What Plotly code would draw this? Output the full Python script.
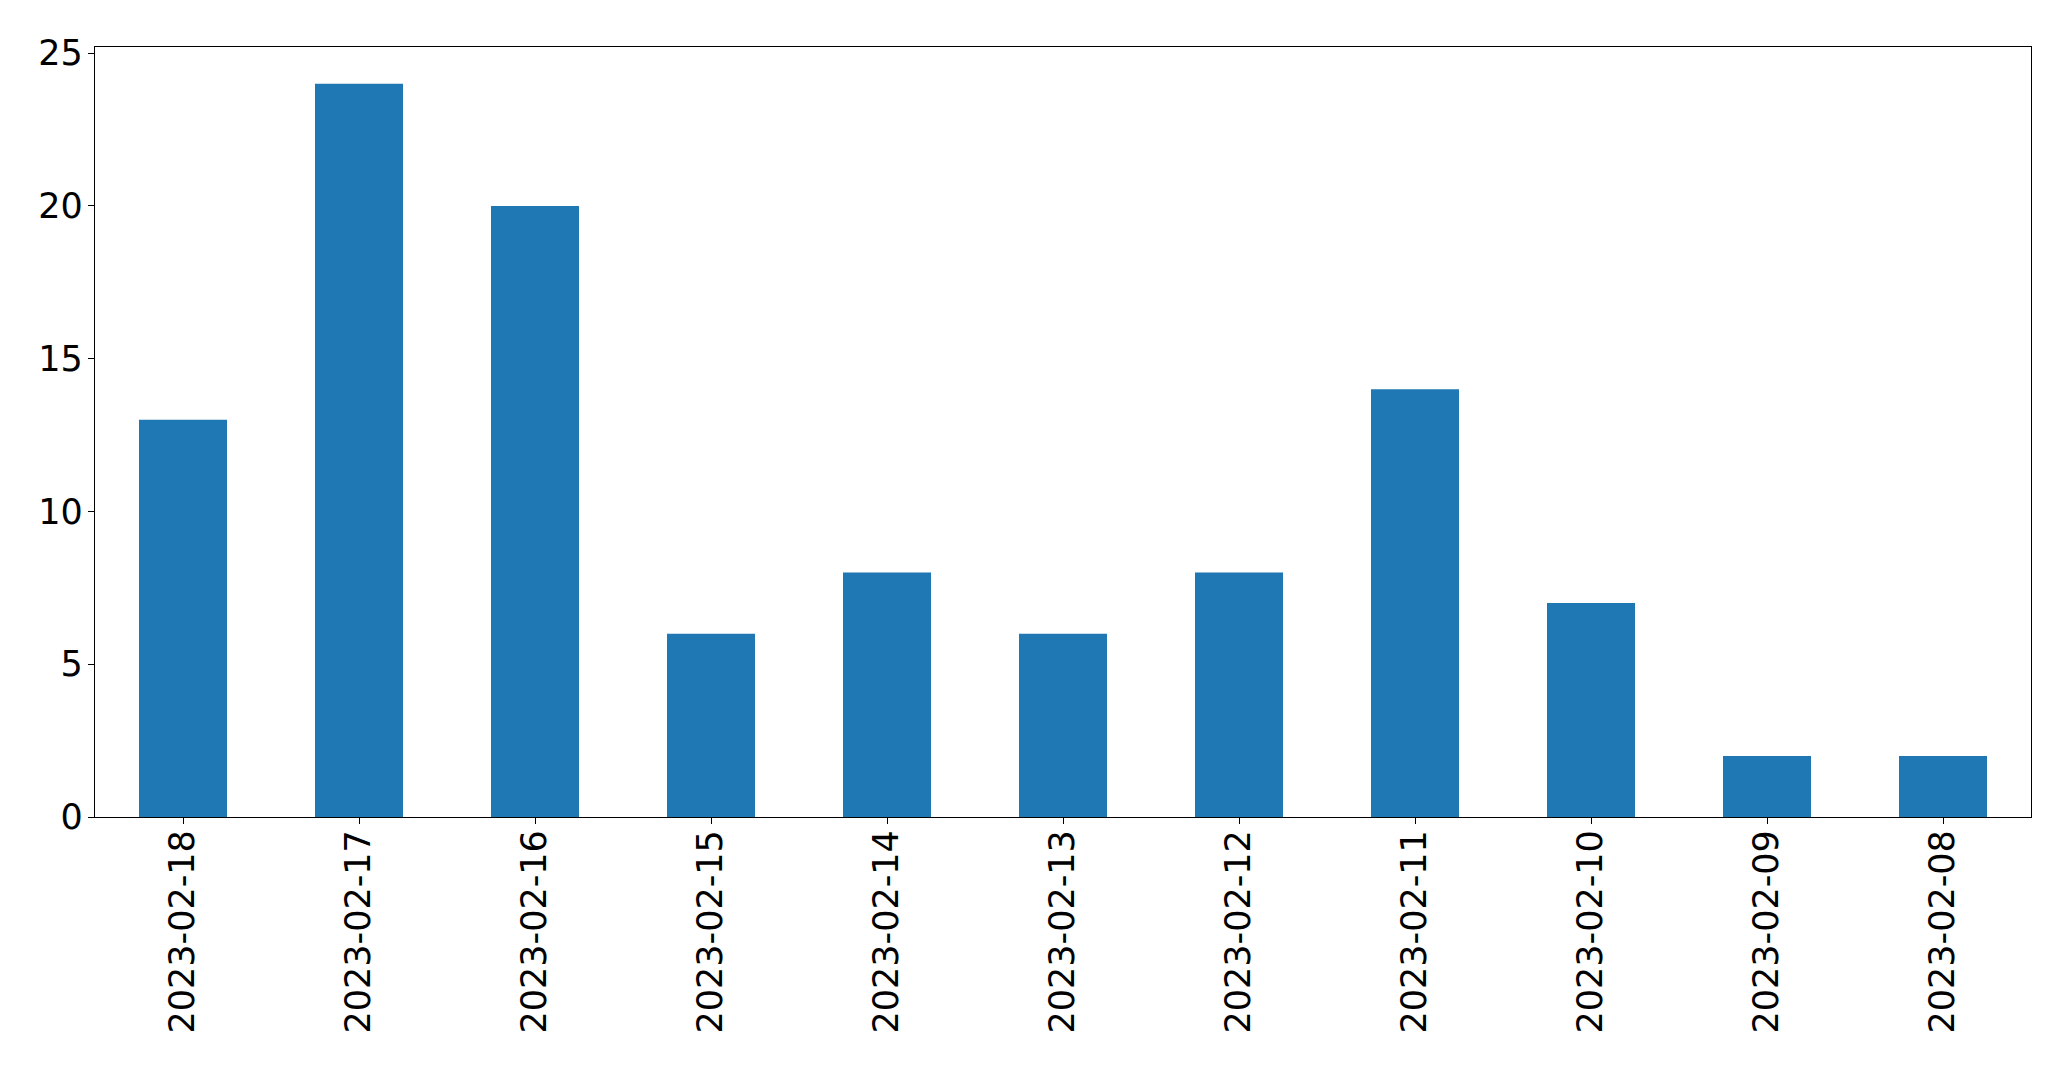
import plotly.graph_objects as go

dates = ["2023-02-18", "2023-02-17", "2023-02-16", "2023-02-15", "2023-02-14",
         "2023-02-13", "2023-02-12", "2023-02-11", "2023-02-10", "2023-02-09", "2023-02-08"]
counts = [13, 24, 20, 6, 8, 6, 8, 14, 7, 2, 2]
y_ticks = [0, 5, 10, 15, 20, 25]

fig = go.Figure(go.Bar(x=dates, y=counts, marker=dict(color="#1f77b4", line=dict(width=0)), width=0.5))

fig.update_layout(
    width=2071, height=1069,
    margin=dict(l=87, r=48, t=39, b=260),
    plot_bgcolor="white", paper_bgcolor="white",
    font=dict(family="DejaVu Sans", size=35, color="black"),
    showlegend=False,
    bargap=0.5,
)
fig.update_xaxes(
    type="category", range=[-0.5, 10.5], tickangle=-90,
    showline=True, mirror=True, linecolor="black", linewidth=1.3,
    ticks="outside", ticklen=6, tickcolor="black", tickwidth=1.3,
    showgrid=False, ticklabelstandoff=-8,
)
fig.update_yaxes(
    range=[0, 25.2], tickvals=y_ticks,
    showline=True, mirror=True, linecolor="black", linewidth=1.3,
    ticks="outside", ticklen=6, tickcolor="black", tickwidth=1.3,
    showgrid=False, zeroline=False, ticklabelstandoff=-2,
)
fig.write_html("out.html")
